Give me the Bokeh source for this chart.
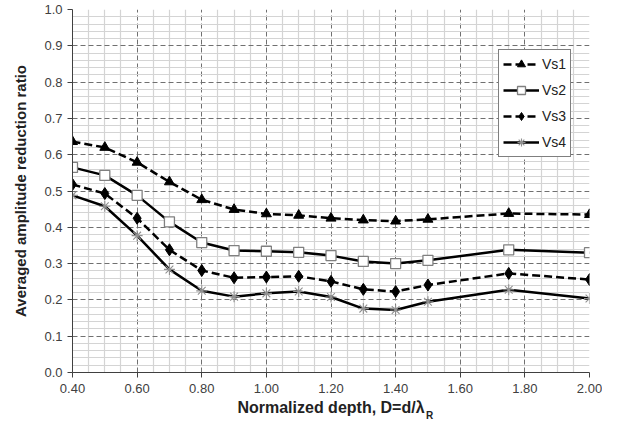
from bokeh.plotting import figure
from bokeh.models import Range1d, FixedTicker, PrintfTickFormatter, Label, Legend, LegendItem
from bokeh.embed import file_html
from bokeh.resources import INLINE

# ---- data ----
depth = [0.40, 0.50, 0.60, 0.70, 0.80, 0.90, 1.00, 1.10, 1.20, 1.30, 1.40, 1.50, 1.75, 2.00]
vs1 = [0.636, 0.620, 0.579, 0.525, 0.476, 0.449, 0.437, 0.433, 0.425, 0.420, 0.417, 0.422, 0.438, 0.435]
vs2 = [0.565, 0.543, 0.488, 0.415, 0.358, 0.336, 0.334, 0.331, 0.322, 0.306, 0.300, 0.309, 0.338, 0.330]
vs3 = [0.518, 0.493, 0.425, 0.338, 0.281, 0.261, 0.263, 0.265, 0.251, 0.229, 0.223, 0.241, 0.273, 0.256]
vs4 = [0.488, 0.458, 0.377, 0.284, 0.225, 0.209, 0.218, 0.223, 0.208, 0.176, 0.172, 0.195, 0.228, 0.204]
series_names = ["Vs1", "Vs2", "Vs3", "Vs4"]
x_major_ticks = [0.4, 0.6, 0.8, 1.0, 1.2, 1.4, 1.6, 1.8, 2.0]
y_major_ticks = [0.0, 0.1, 0.2, 0.3, 0.4, 0.5, 0.6, 0.7, 0.8, 0.9, 1.0]
x_label_main = "Normalized depth, D=d/\u03bb"
x_label_sub = "R"
y_label = "Averaged amplitude reduction ratio"

FONT = "Liberation Sans"

x_minor = [round(0.4 + 0.05 * i, 2) for i in range(33)]
x_minor = [t for t in x_minor if all(abs(t - m) > 1e-6 for m in x_major_ticks)]
y_minor = [round(0.02 * i, 2) for i in range(51)]
y_minor = [t for t in y_minor if all(abs(t - m) > 1e-6 for m in y_major_ticks)]

p = figure(width=602, height=421, output_backend="svg", toolbar_location=None,
           x_range=Range1d(0.4, 2.0), y_range=Range1d(0.0, 1.0),
           min_border_left=72, min_border_right=13, min_border_top=9, min_border_bottom=49)
p.outline_line_color = None
p.background_fill_color = "white"
p.border_fill_color = "white"

p.xaxis.ticker = FixedTicker(ticks=x_major_ticks, minor_ticks=x_minor)
p.yaxis.ticker = FixedTicker(ticks=y_major_ticks, minor_ticks=y_minor)
p.xaxis.formatter = PrintfTickFormatter(format="%.2f")
p.yaxis.formatter = PrintfTickFormatter(format="%.1f")

for ax in (p.xaxis[0], p.yaxis[0]):
    ax.axis_line_color = "#404040"
    ax.major_tick_line_color = "#404040"
    ax.major_tick_out = 5
    ax.major_tick_in = 0
    ax.minor_tick_line_color = None
    ax.major_label_text_font = FONT
    ax.major_label_text_font_size = "13px"
    ax.major_label_text_color = "#404040"
    ax.axis_label_text_font = FONT
    ax.axis_label_text_font_style = "bold"
    ax.axis_label_text_color = "#222222"
p.xaxis.major_label_standoff = 6
p.yaxis.major_label_standoff = 5

p.yaxis.axis_label = y_label
p.yaxis.axis_label_text_font_size = "15px"
p.yaxis.axis_label_standoff = 12
p.xaxis.axis_label = x_label_main
p.xaxis.axis_label_text_font_size = "16px"
p.xaxis.axis_label_standoff = 3

for g in (p.xgrid[0], p.ygrid[0]):
    g.grid_line_color = "#707070"
    g.grid_line_dash = "5 3"
    g.grid_line_width = 1
    g.minor_grid_line_color = "#d4d4d4"
    g.minor_grid_line_width = 1.2

# series
r1l = p.line(depth, vs1, line_color="black", line_width=2.5, line_dash="8 4")
r1m = p.scatter(depth, vs1, marker="triangle", size=10, fill_color="black", line_color="black")
r2l = p.line(depth, vs2, line_color="black", line_width=2.5)
r2m = p.scatter(depth, vs2, marker="square", size=10, fill_color="white", line_color="#808080", line_width=1.3)
r3l = p.line(depth, vs3, line_color="black", line_width=2.5, line_dash="8 4")
r3m = p.scatter(depth, vs3, marker="diamond", size=12, fill_color="black", line_color="black")
r4l = p.line(depth, vs4, line_color="black", line_width=2.5)
r4m = p.scatter(depth, vs4, marker="asterisk", size=11, line_color="#909090", line_width=1.1)

legend = Legend(items=[
    LegendItem(label=series_names[0], renderers=[r1l, r1m]),
    LegendItem(label=series_names[1], renderers=[r2l, r2m]),
    LegendItem(label=series_names[2], renderers=[r3l, r3m]),
    LegendItem(label=series_names[3], renderers=[r4l, r4m]),
], location=(426, 215))
legend.border_line_color = "black"
legend.border_line_width = 1
legend.background_fill_color = "white"
legend.background_fill_alpha = 1
legend.label_text_font = FONT
legend.label_text_font_size = "14px"
legend.label_text_color = "#222222"
legend.glyph_width = 36
legend.glyph_height = 20
legend.spacing = 6
legend.padding = 4
legend.margin = 0
legend.label_standoff = 3
legend.label_height = 20
p.add_layout(legend)

# subscript "R" of the x-axis title, placed in the right side panel (not clipped to the frame)
p.add_layout(Label(x=-163.5, y=-43, x_units="screen", y_units="screen", text=x_label_sub,
                   text_align="left", text_baseline="middle",
                   text_font=FONT, text_font_style="bold", text_font_size="10px", text_color="#222222"),
             "right")

open("out.html", "w").write(file_html(p, INLINE))
